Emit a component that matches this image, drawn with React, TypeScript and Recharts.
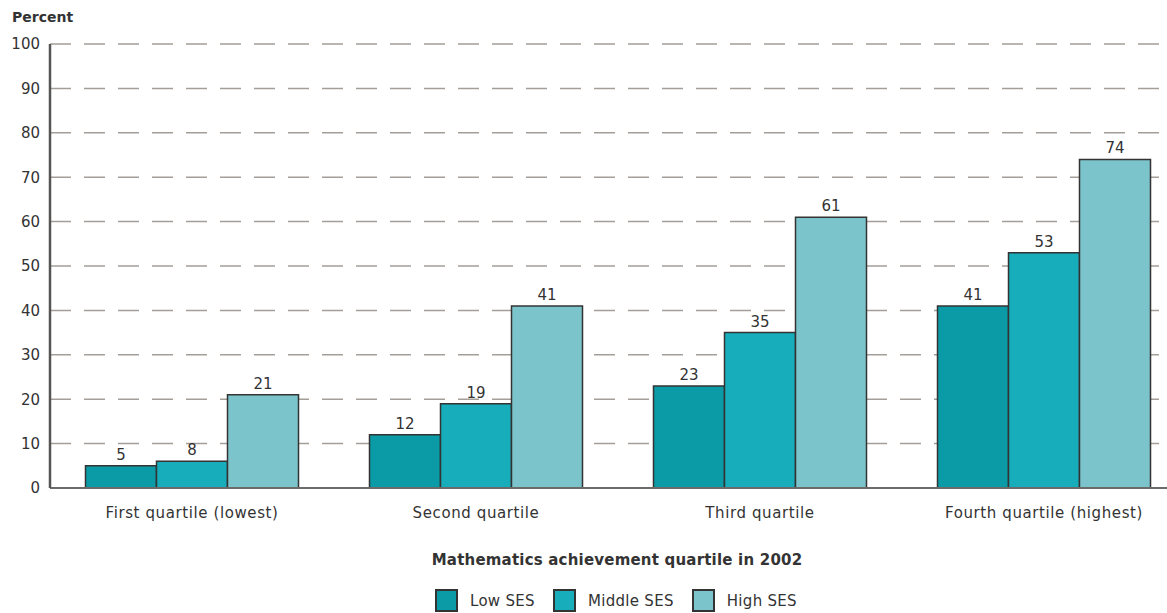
import { BarChart, Bar, XAxis, YAxis, CartesianGrid, LabelList } from 'recharts';

const quartiles = ['First quartile (lowest)', 'Second quartile', 'Third quartile', 'Fourth quartile (highest)'];
// bar heights as drawn
const lowSes = [5, 12, 23, 41];
const middleSes = [6, 19, 35, 53];
const highSes = [21, 41, 61, 74];
// printed labels (first middle bar is labelled 8 in the source)
const lowLabels = ['5', '12', '23', '41'];
const middleLabels = ['8', '19', '35', '53'];
const highLabels = ['21', '41', '61', '74'];
const yTicks = [0, 10, 20, 30, 40, 50, 60, 70, 80, 90, 100];

const series = [
  { key: 'low', label: 'lowLabel', name: 'Low SES', color: '#0a9ba7' },
  { key: 'middle', label: 'middleLabel', name: 'Middle SES', color: '#17adba' },
  { key: 'high', label: 'highLabel', name: 'High SES', color: '#7cc4cc' },
];

const data = quartiles.map((q, i) => ({
  name: q,
  low: lowSes[i],
  middle: middleSes[i],
  high: highSes[i],
  lowLabel: lowLabels[i],
  middleLabel: middleLabels[i],
  highLabel: highLabels[i],
}));

const font = '"DejaVu Sans", sans-serif';
const textColor = '#333';

const App = () => {
  return (
    <div style={{ position: 'fixed', left: 0, top: 0, width: 1167, height: 613, overflow: 'hidden', background: '#fff', fontFamily: font }}>
      <div style={{ position: 'absolute', left: 12, top: 9, fontSize: 14, fontWeight: 'bold', color: textColor }}>Percent</div>
      <BarChart
        width={1186}
        height={613}
        data={data}
        margin={{ top: 44, right: 0, bottom: 0, left: 0 }}
        barCategoryGap="12.5%"
        barGap={0}
      >
        <CartesianGrid vertical={false} strokeDasharray="21 13" stroke="#a39e98" strokeWidth={1.5} />
        <XAxis
          dataKey="name"
          height={125}
          tickLine={false}
          tickSize={0}
          tickMargin={19}
          axisLine={{ stroke: '#6b6b6b', strokeWidth: 2 }}
          tick={{ fill: textColor, fontSize: 15, fontFamily: font, letterSpacing: 0.6 }}
          interval={0}
        />
        <YAxis
          width={50}
          domain={[0, 100]}
          ticks={yTicks}
          interval={0}
          tickLine={false}
          tickSize={0}
          tickMargin={10}
          axisLine={{ stroke: '#555', strokeWidth: 2.5 }}
          tick={{ fill: textColor, fontSize: 15, fontFamily: font }}
        />
        {series.map(s => (
          <Bar key={s.key} dataKey={s.key} name={s.name} fill={s.color} stroke="#333" strokeWidth={1.5} isAnimationActive={false}>
            <LabelList dataKey={s.label} position="top" offset={6} fill={textColor} fontSize={15} fontFamily={font} />
          </Bar>
        ))}
      </BarChart>
      <div style={{ position: 'absolute', left: 0, width: 1234, top: 551, textAlign: 'center', fontSize: 15, fontWeight: 'bold', color: textColor, letterSpacing: 0.2 }}>
        Mathematics achievement quartile in 2002
      </div>
      <div style={{ position: 'absolute', left: 435, top: 589, display: 'flex', alignItems: 'center', fontSize: 15, color: textColor, letterSpacing: 0.3 }}>
        {series.map(s => (
          <div key={s.key} style={{ display: 'flex', alignItems: 'center', marginRight: 18 }}>
            <div style={{ width: 19, height: 19, background: s.color, border: '2px solid #333', marginRight: 12 }} />
            <span>{s.name}</span>
          </div>
        ))}
      </div>
    </div>
  );
};

export default App;
